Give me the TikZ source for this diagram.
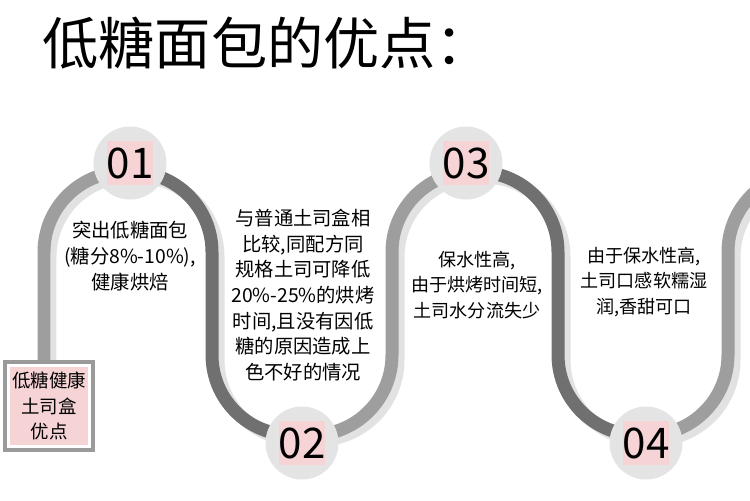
\documentclass[tikz,border=0pt]{standalone}
\usepackage{fontspec}
\setmainfont{Noto Sans CJK SC}
\usetikzlibrary{positioning}
\definecolor{pathlight}{HTML}{9E9E9E}
\definecolor{pathdark}{HTML}{707070}
\definecolor{pathshade}{HTML}{E2E2E2}
\definecolor{discgray}{HTML}{E4E4E4}
\definecolor{numpink}{HTML}{F6D3D5}
\definecolor{framegray}{HTML}{9A9A9A}

\begin{document}
\begin{tikzpicture}[
    x=0.02cm, y=-0.02cm,
    track/.style={line width=0.26cm, rounded corners=1.6cm},
    light/.style={track, draw=pathlight},
    dark/.style={track, draw=pathdark},
    shade/.style={track, draw=pathshade},
    disc/.style={circle, fill=discgray, minimum size=1.46cm, inner sep=0pt},
    num/.style={fill=numpink, minimum width=0.86cm, minimum height=0.88cm, inner sep=0pt, font=\fontsize{24}{24}\selectfont},
    desc/.style={align=center, inner sep=0pt, font=\fontsize{11}{14.6}\selectfont},
    descsm/.style={desc, font=\fontsize{10.3}{14.3}\selectfont},
    frame/.style={draw=framegray, line width=0.08cm, fill=white, minimum width=1.76cm, minimum height=1.78cm},
    boxtxt/.style={fill=numpink, minimum width=1.56cm, minimum height=1.56cm, inner sep=0pt, align=center, font=\fontsize{10.5}{14.7}\selectfont},
]
    \useasboundingbox (0,0) rectangle (750,500);

    % --- Title ---
    \node[anchor=west, inner sep=0pt, font=\fontsize{32}{32}\selectfont] (title) at (42,43) {低糖面包的优点：};

    % --- Track shadow ---
    \draw[shade, shift={(6,5)}] (44,362) -- (44,172) -- (212,172) -- (212,435) -- (392,435) -- (392,172)
        -- (558,172) -- (558,435) -- (728,435) -- (728,172) -- (812,172);

    % --- Track, alternating light and dark ---
    \draw[light] (44,362) -- (44,172) -- (128,172);
    \draw[dark] (128,172) -- (212,172) -- (212,435) -- (302,435);
    \draw[light] (302,435) -- (392,435) -- (392,172) -- (475,172);
    \draw[dark] (475,172) -- (558,172) -- (558,435) -- (643,435);
    \draw[light] (643,435) -- (728,435) -- (728,172) -- (812,172);

    % --- Start box ---
    \node[frame] (frame) at (49,406) {};
    \node[boxtxt] (boxtxt) at (frame) {低糖健康\\土司盒\\优点};

    % --- Step discs ---
    \node[disc] (c1) at (130,163) {};
    \node[disc] (c2) at (302,443) {};
    \node[disc] (c3) at (466,163) {};
    \node[disc] (c4) at (646,443) {};
    \node[num] (n1) at (c1) {01};
    \node[num] (n2) at (c2) {02};
    \node[num] (n3) at (c3) {03};
    \node[num] (n4) at (c4) {04};

    % --- Descriptions ---
    \node[desc] (t1) at (130,256) {突出低糖面包\\(糖分8\%-10\%),\\健康烘焙};
    \node[desc] (t2) at (303,295) {与普通土司盒相\\比较,同配方同\\规格土司可降低\\20\%-25\%的烘烤\\时间,且没有因低\\糖的原因造成上\\色不好的情况};
    \node[descsm] (t3) at (477,285) {保水性高,\\由于烘烤时间短,\\土司水分流失少};
    \node[descsm] (t4) at (644,282) {由于保水性高,\\土司口感软糯湿\\润,香甜可口};

\end{tikzpicture}
\end{document}
